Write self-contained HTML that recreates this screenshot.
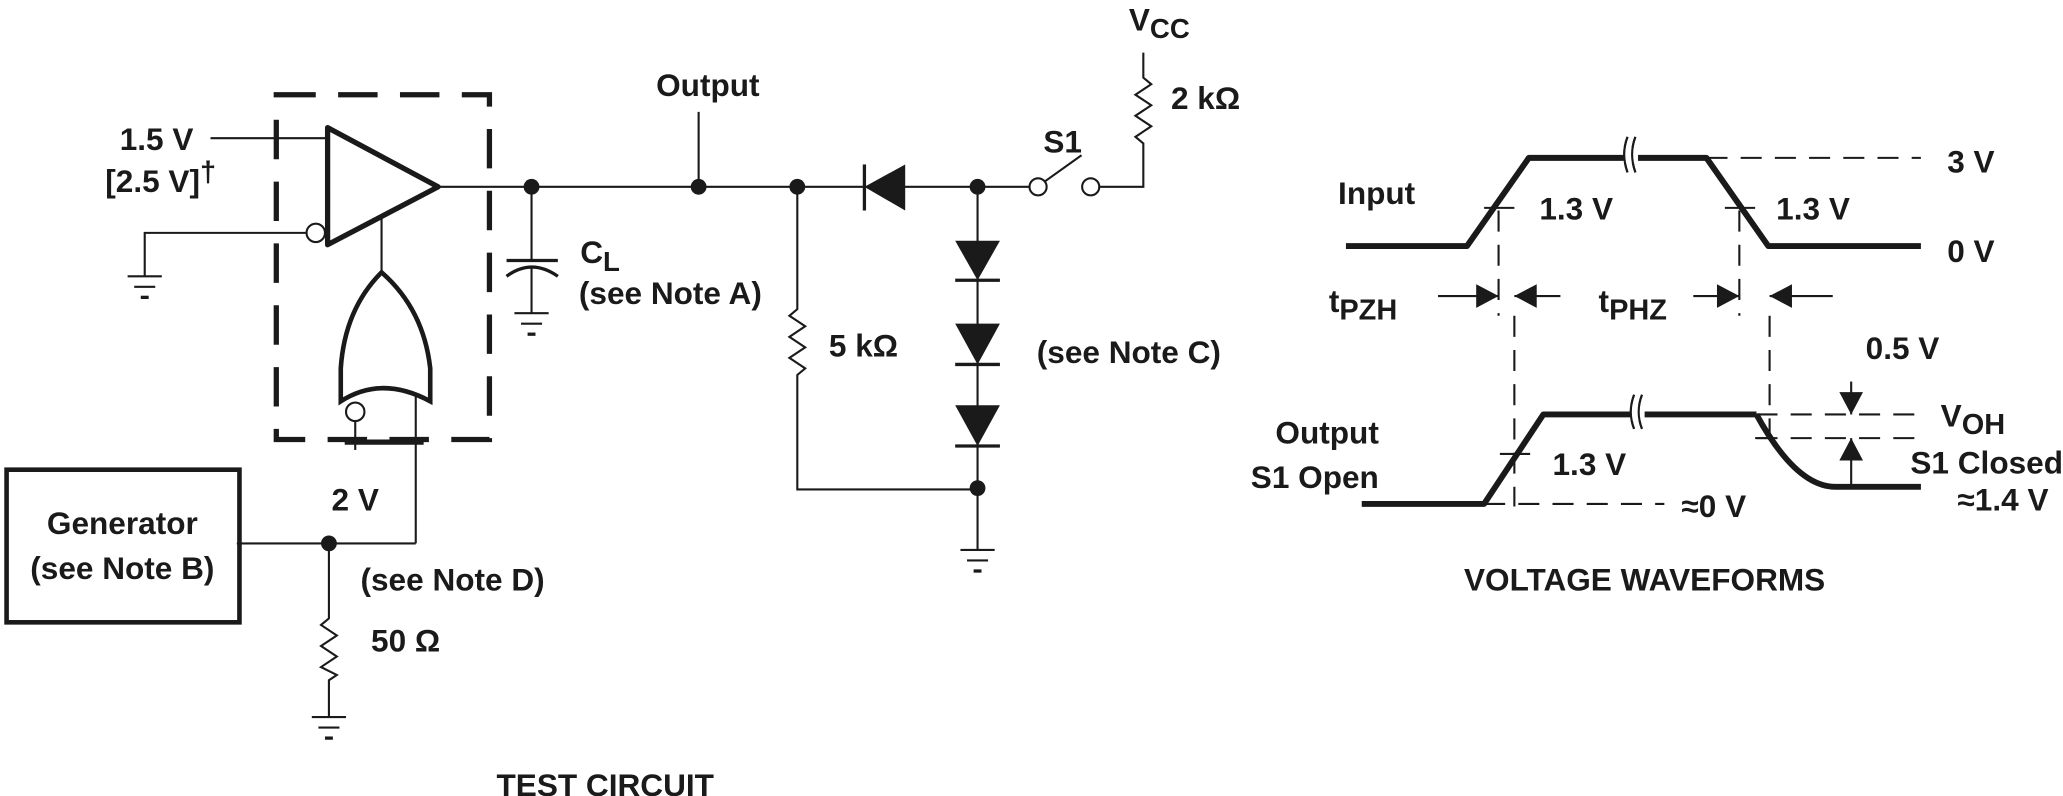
<!DOCTYPE html>
<html><head><meta charset="utf-8"><style>
html,body{margin:0;padding:0;background:#fff;}
svg{display:block;}
text{font-family:"Liberation Sans",sans-serif;font-weight:bold;fill:#1a1a1a;font-size:24px;}
</style></head><body>
<svg width="2063" height="796" viewBox="0 0 1568 605" preserveAspectRatio="none" xmlns="http://www.w3.org/2000/svg">
<g stroke="#1a1a1a" fill="none" stroke-width="1.6">
<!-- dashed box -->
<rect x="210" y="72" width="162" height="262" stroke-width="4" stroke-dasharray="30,17"/>
<!-- buffer -->
<polygon points="249,97 249,186 333,142" stroke-width="4" stroke-linejoin="round"/>
<line x1="160" y1="105" x2="249" y2="105"/>
<circle cx="240" cy="177" r="7" fill="#fff"/>
<polyline points="233,177 110,177 110,210"/>
<line x1="97" y1="210" x2="123" y2="210"/><line x1="102" y1="218" x2="118" y2="218"/><line x1="107" y1="226" x2="113" y2="226" stroke-width="2.5"/>
<line x1="290" y1="165" x2="290" y2="207"/>
<!-- OR gate -->
<path d="M290,207 Q262,235 259,280 L259,305 Q290,285 327,305 L327,280 Q322,235 290,207 Z" stroke-width="3.5"/>
<circle cx="270" cy="313" r="7" fill="#fff"/>
<line x1="270" y1="320" x2="270" y2="342"/>
<line x1="316" y1="300" x2="316" y2="413"/>
<line x1="262" y1="336" x2="322" y2="336" stroke-width="4"/>
<line x1="180" y1="413" x2="316" y2="413"/>
<rect x="5" y="357" width="177" height="116" stroke-width="3.5"/>
<polyline points="250,413 250,470 244,475 256,483 244,491 256,499 244,507 256,513 250,517 250,545"/>
<line x1="237" y1="545" x2="263" y2="545"/><line x1="242" y1="553" x2="258" y2="553"/><line x1="247" y1="561" x2="253" y2="561" stroke-width="2.5"/>
<!-- output line -->
<line x1="333" y1="142" x2="782" y2="142"/>
<line x1="404" y1="142" x2="404" y2="198"/>
<line x1="385" y1="198" x2="424" y2="198" stroke-width="2.5"/>
<path d="M385,210 Q404,196 424,210" stroke-width="2.5"/>
<line x1="404" y1="204" x2="404" y2="238"/>
<line x1="391" y1="238" x2="417" y2="238"/><line x1="396" y1="246" x2="412" y2="246"/><line x1="401" y1="254" x2="407" y2="254" stroke-width="2.5"/>
<line x1="531" y1="85" x2="531" y2="142"/>
<polyline points="606,142 606,235 600,240 612,248 600,256 612,264 600,272 612,280 606,285 606,372 743,372"/>
<!-- diodes -->
<polygon points="688,125 688,160 657,142" fill="#1a1a1a" stroke="none"/>
<line x1="657" y1="125" x2="657" y2="160" stroke-width="2.5"/>
<line x1="743" y1="142" x2="743" y2="418"/>
<polygon points="726,183 760,183 743,213" fill="#1a1a1a" stroke="none"/><line x1="726" y1="213" x2="760" y2="213" stroke-width="2.5"/>
<polygon points="726,246 760,246 743,277" fill="#1a1a1a" stroke="none"/><line x1="726" y1="277" x2="760" y2="277" stroke-width="2.5"/>
<polygon points="726,308 760,308 743,339" fill="#1a1a1a" stroke="none"/><line x1="726" y1="339" x2="760" y2="339" stroke-width="2.5"/>
<line x1="730" y1="418" x2="756" y2="418"/><line x1="735" y1="426" x2="751" y2="426"/><line x1="740" y1="434" x2="746" y2="434" stroke-width="2.5"/>
<!-- switch -->
<circle cx="789" cy="142" r="6.5" fill="#fff"/>
<line x1="794" y1="138" x2="822" y2="118"/>
<circle cx="829" cy="142" r="6.5" fill="#fff"/>
<polyline points="836,142 869,142 869,109 863,104 875,96 863,88 875,80 863,72 875,64 869,59 869,40"/>
</g>
<g fill="#1a1a1a">
<circle cx="404" cy="142" r="6"/><circle cx="531" cy="142" r="6"/><circle cx="606" cy="142" r="6"/>
<circle cx="743" cy="142" r="6"/><circle cx="743" cy="371" r="6"/><circle cx="250" cy="413" r="6"/>
</g>
<text x="147" y="114" text-anchor="end">1.5 V</text>
<text x="80" y="146">[2.5 V]<tspan font-size="22" dy="-8">†</tspan></text>
<text x="270" y="388" text-anchor="middle">2 V</text>
<text x="93" y="406" text-anchor="middle">Generator</text>
<text x="93" y="440" text-anchor="middle">(see Note B)</text>
<text x="274" y="449">(see Note D)</text>
<text x="282" y="495">50 Ω</text>
<text x="441" y="200">C<tspan font-size="21" dy="6">L</tspan></text>
<text x="440" y="231">(see Note A)</text>
<text x="538" y="73" text-anchor="middle">Output</text>
<text x="630" y="271">5 kΩ</text>
<text x="788" y="276">(see Note C)</text>
<text x="793" y="116">S1</text>
<text x="858" y="23">V<tspan font-size="21" dy="6">CC</tspan></text>
<text x="890" y="83">2 kΩ</text>
<text x="460" y="605" text-anchor="middle">TEST CIRCUIT</text>
<!-- waveforms -->
<g stroke="#1a1a1a" fill="none">
<polyline points="1023,187 1115,187 1162,120 1297,120 1344,187 1460,187" stroke-width="4.5" stroke-linejoin="round"/>
<polyline points="1035,383 1128,383 1173,315 1335,315" stroke-width="4.5" stroke-linejoin="round"/>
<path d="M1335,315 Q1365,370 1395,370 L1460,370" stroke-width="4.5"/>
<g stroke-width="1.6" stroke-dasharray="16,10">
<line x1="1297" y1="120" x2="1460" y2="120"/>
<line x1="1335" y1="315" x2="1460" y2="315"/>
<line x1="1335" y1="333" x2="1460" y2="333"/>
<line x1="1128" y1="383" x2="1265" y2="383"/>
<line x1="1139" y1="160" x2="1139" y2="240"/>
<line x1="1322" y1="160" x2="1322" y2="240"/>
<line x1="1151" y1="240" x2="1151" y2="385"/>
<line x1="1345" y1="240" x2="1345" y2="330"/>
</g>
<g stroke-width="1.6">
<line x1="1128" y1="158" x2="1151" y2="158"/><line x1="1311" y1="158" x2="1334" y2="158"/>
<line x1="1140" y1="345" x2="1163" y2="345"/><line x1="1334" y1="333" x2="1348" y2="333"/>
<line x1="1093" y1="225" x2="1139" y2="225"/><line x1="1151" y1="225" x2="1186" y2="225"/>
<line x1="1287" y1="225" x2="1322" y2="225"/><line x1="1345" y1="225" x2="1393" y2="225"/>
<line x1="1407" y1="290" x2="1407" y2="315"/><line x1="1407" y1="333" x2="1407" y2="370"/>
<path d="M1237,104 Q1232,117 1237,131 M1243,104 Q1238,117 1243,131"/>
<path d="M1242,300 Q1237,313 1242,326 M1248,300 Q1243,313 1248,326"/>
</g>
</g>
<rect x="1234" y="112" width="11" height="12" fill="#fff"/>
<rect x="1239" y="308" width="11" height="12" fill="#fff"/>
<g stroke="#1a1a1a" stroke-width="1.6" fill="none">
<path d="M1237,104 Q1232,117 1237,131 M1243,104 Q1238,117 1243,131"/>
<path d="M1242,300 Q1237,313 1242,326 M1248,300 Q1243,313 1248,326"/>
</g>
<g fill="#1a1a1a">
<polygon points="1122,216 1122,234 1139,225"/><polygon points="1168,216 1168,234 1151,225"/>
<polygon points="1305,216 1305,234 1322,225"/><polygon points="1362,216 1362,234 1345,225"/>
<polygon points="1398,298 1416,298 1407,315"/><polygon points="1398,350 1416,350 1407,333"/>
</g>
<text x="1017" y="155">Input</text>
<text x="1170" y="167">1.3 V</text>
<text x="1350" y="167">1.3 V</text>
<text x="1480" y="131">3 V</text>
<text x="1480" y="199">0 V</text>
<text x="1010" y="237">t<tspan font-size="22" dy="6">PZH</tspan></text>
<text x="1215" y="237">t<tspan font-size="22" dy="6">PHZ</tspan></text>
<text x="1418" y="273">0.5 V</text>
<text x="1475" y="324">V<tspan font-size="22" dy="6">OH</tspan></text>
<text x="1048" y="337" text-anchor="end">Output</text>
<text x="1048" y="371" text-anchor="end">S1 Open</text>
<text x="1180" y="361">1.3 V</text>
<text x="1278" y="393">≈0 V</text>
<text x="1568" y="360" text-anchor="end">S1 Closed</text>
<text x="1557" y="388" text-anchor="end">≈1.4 V</text>
<text x="1250" y="449" text-anchor="middle">VOLTAGE WAVEFORMS</text>
</svg>
</body></html>
